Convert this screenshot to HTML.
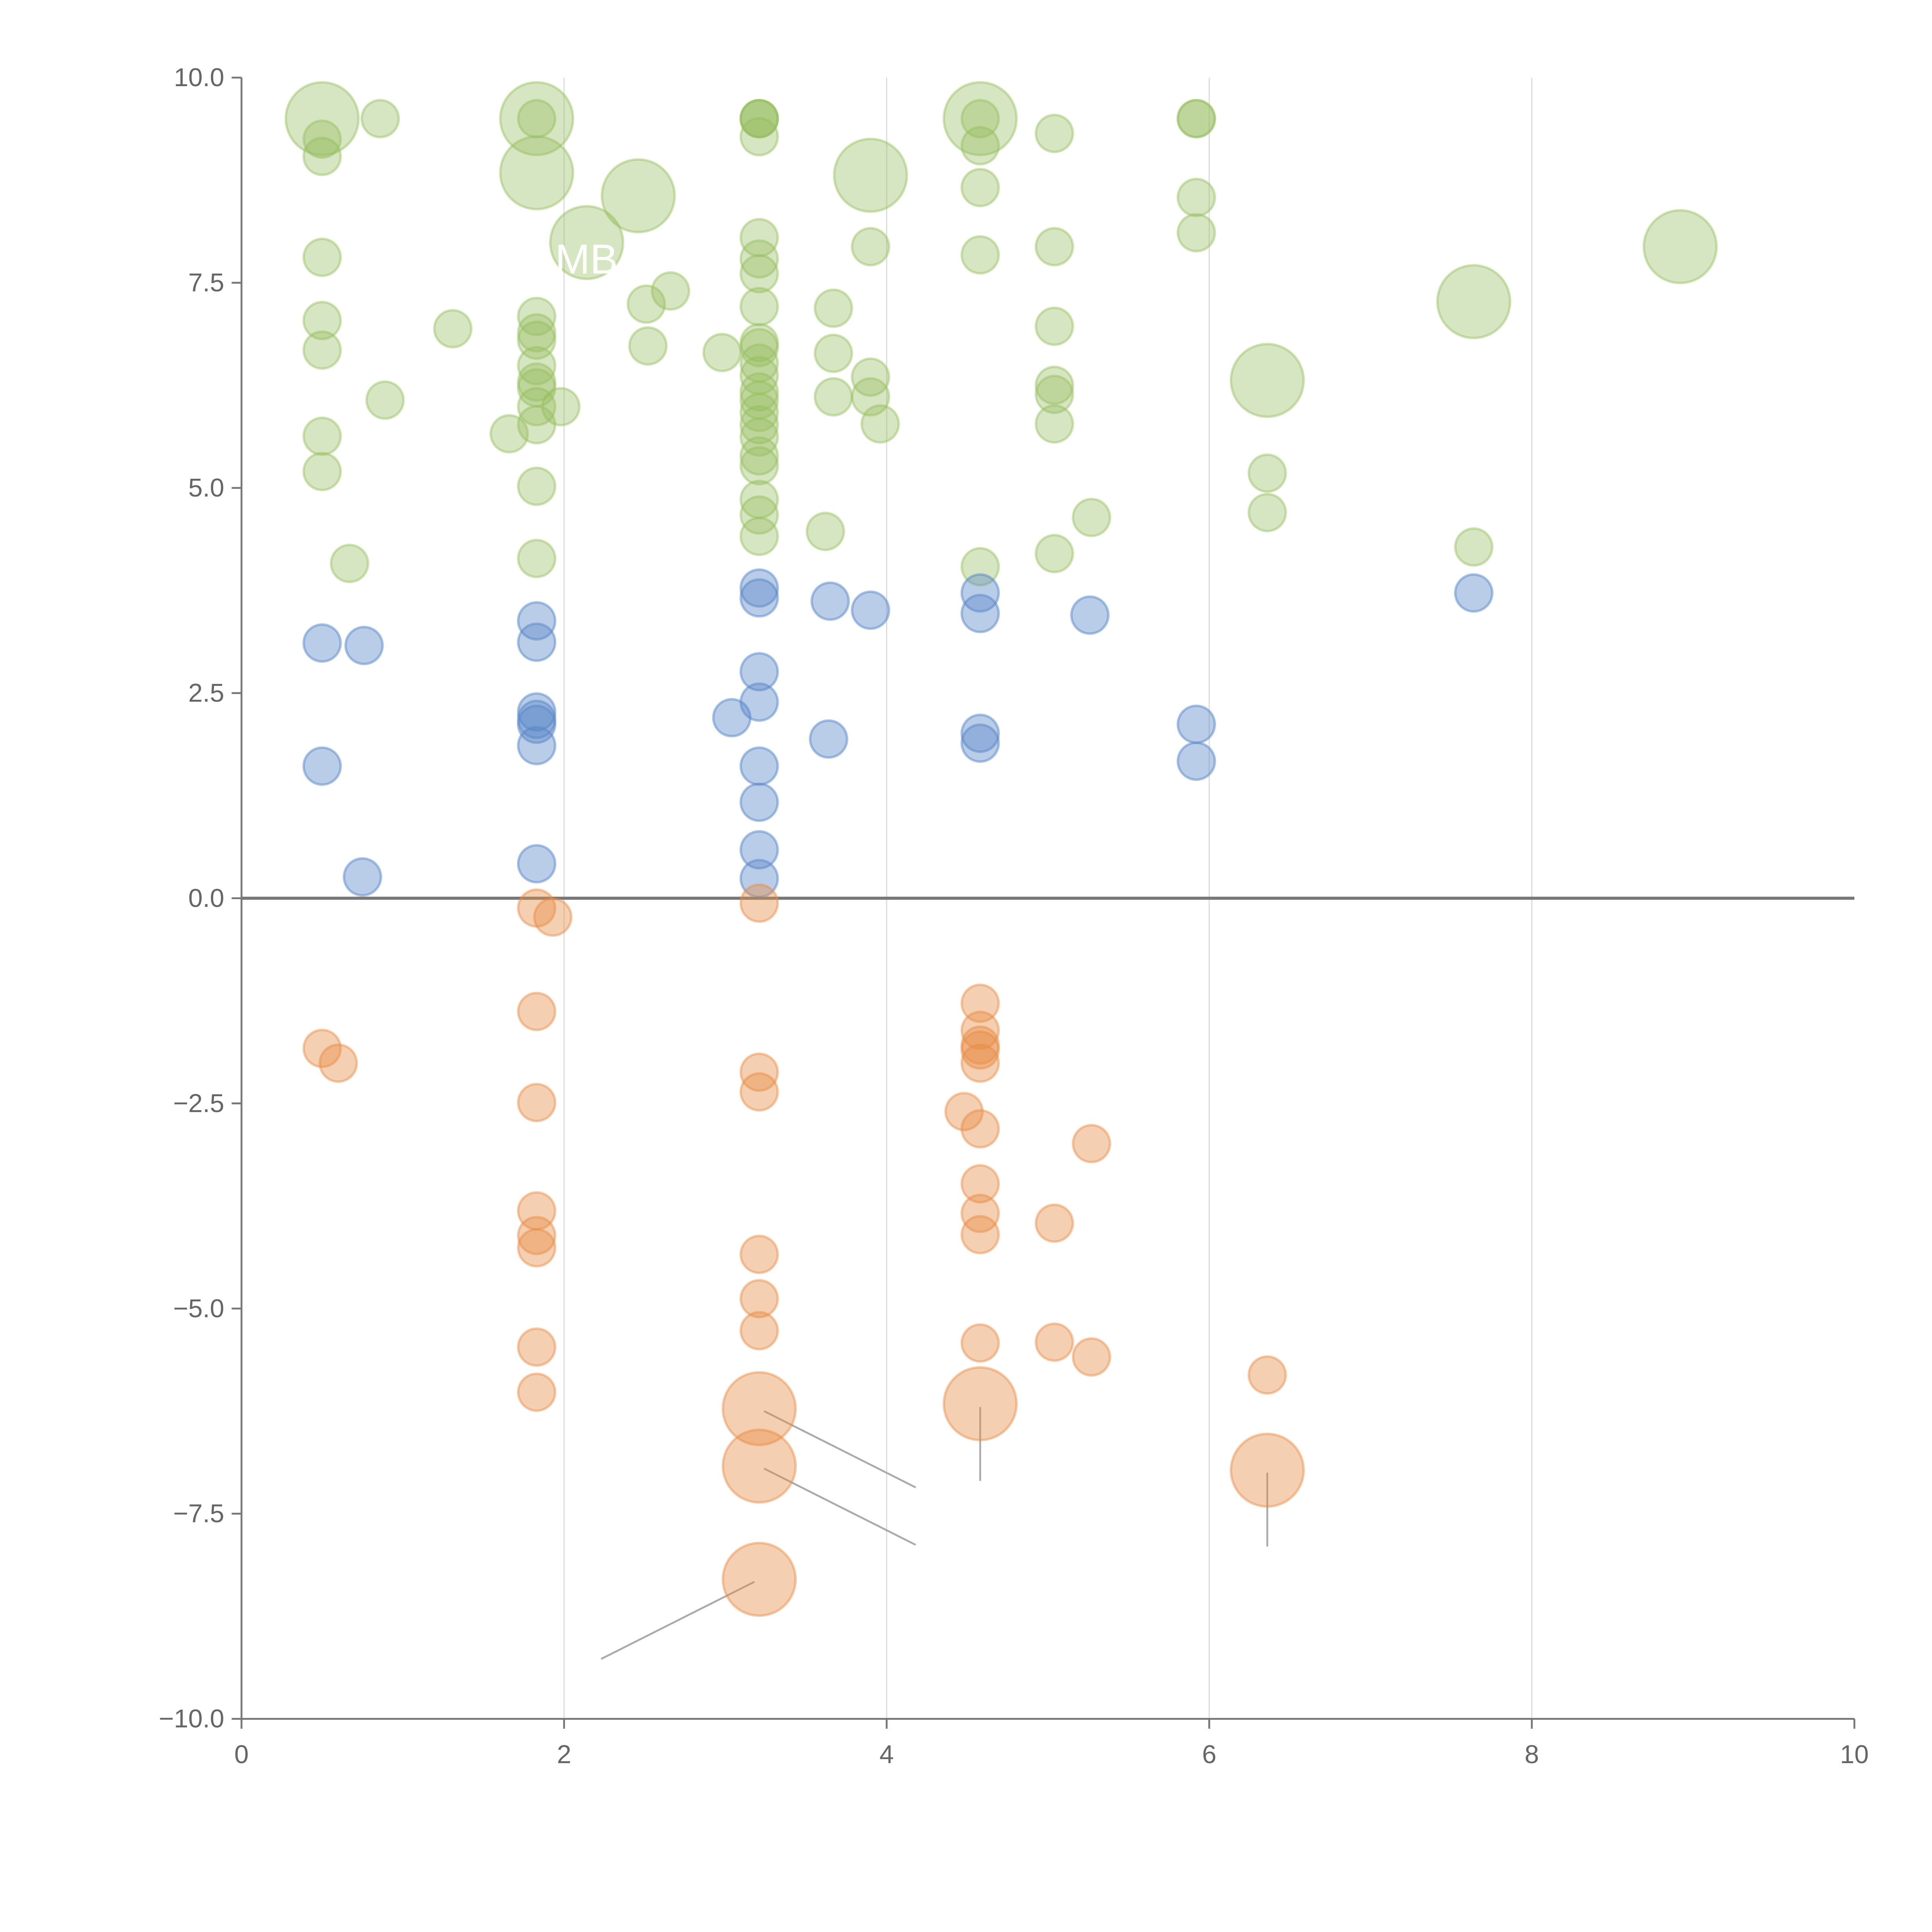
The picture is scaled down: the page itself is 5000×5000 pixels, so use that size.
<!DOCTYPE html>
<html><head><meta charset="utf-8"><style>
html,body{margin:0;padding:0;background:#fff;}
svg{display:block;}
text{font-family:"Liberation Sans",Arial,sans-serif;}
</style></head><body>
<svg id="chart" width="5000" height="5000" viewBox="0 0 1568 1568" xmlns="http://www.w3.org/2000/svg">
<g id="grid"></g>
<g id="axes"></g>
<g id="leaders"></g>
<g id="marks"></g>
<text x="476" y="222" font-size="34" fill="#fff" text-anchor="middle">MB</text>
</svg>
<script>
const greenX = [0.50,0.86,0.50,0.50,0.50,0.50,0.50,0.50,0.50,0.67,0.89,1.31,1.66,1.83,1.83,1.83,1.83,1.83,1.83,1.83,1.83,1.83,1.83,1.83,1.98,1.83,1.83,2.14,2.46,2.51,2.52,2.66,2.98,3.21,3.21,3.21,3.21,3.21,3.21,3.21,3.21,3.21,3.21,3.21,3.21,3.21,3.21,3.21,3.21,3.21,3.21,3.21,3.21,3.21,3.21,3.62,3.67,3.67,3.67,3.90,3.90,3.90,3.90,3.96,4.58,4.58,4.58,4.58,4.58,4.58,5.04,5.04,5.04,5.04,5.04,5.04,5.04,5.27,5.92,5.92,5.92,5.92,6.36,6.36,6.36,7.64,7.64,8.92];
const greenY = [9.50,9.50,9.25,9.04,7.81,7.04,6.68,5.63,5.20,4.08,6.07,6.94,5.66,9.50,9.50,8.84,7.09,6.89,6.80,6.49,6.29,6.22,5.99,5.77,5.99,5.02,4.14,7.99,8.56,7.24,6.73,7.40,6.65,9.50,9.50,9.28,8.05,7.79,7.61,7.21,6.77,6.71,6.52,6.37,6.17,6.07,5.92,5.77,5.62,5.39,5.27,4.86,4.67,4.41,9.50,4.47,7.19,6.64,6.11,8.81,7.94,6.35,6.11,5.78,9.50,9.50,9.17,8.66,7.84,4.04,9.32,7.94,6.97,6.25,6.14,5.78,4.20,4.64,9.50,9.50,8.54,8.11,6.31,5.18,4.70,7.27,4.28,7.94];
const greenS = [2,1,1,1,1,1,1,1,1,1,1,1,1,2,1,2,1,1,1,1,1,1,1,1,1,1,1,2,2,1,1,1,1,1,1,1,1,1,1,1,1,1,1,1,1,1,1,1,1,1,1,1,1,1,1,1,1,1,1,2,1,1,1,1,2,1,1,1,1,1,1,1,1,1,1,1,1,1,1,1,1,1,2,1,1,2,1,2];
const blueX = [0.50,0.76,0.50,0.75,1.83,1.83,1.83,1.83,1.83,1.83,1.83,3.04,3.21,3.21,3.21,3.21,3.21,3.21,3.21,3.21,3.65,3.90,3.64,4.58,4.58,4.58,4.58,5.26,5.92,5.92,7.64];
const blueY = [3.11,3.08,1.61,0.26,3.38,3.12,2.27,2.18,2.12,1.86,0.42,2.20,3.78,3.66,2.76,2.39,1.61,1.17,0.59,0.24,3.62,3.51,1.94,3.72,3.47,2.01,1.89,3.45,2.12,1.67,3.72];
const orangeX = [1.83,1.93,3.21,0.50,0.60,1.83,1.83,1.83,1.83,1.83,1.83,1.83,3.21,3.21,3.21,3.21,3.21,3.21,3.21,3.21,4.58,4.58,4.58,4.58,4.58,4.48,4.58,4.58,4.58,4.58,4.58,4.58,5.04,5.04,5.27,5.27,6.36,6.36];
const orangeY = [-0.12,-0.23,-0.06,-1.83,-2.01,-1.38,-2.49,-3.81,-4.11,-4.26,-5.47,-6.02,-2.12,-2.36,-4.34,-4.88,-5.27,-6.22,-6.92,-8.30,-1.28,-1.61,-1.79,-1.85,-2.01,-2.60,-2.81,-3.48,-3.84,-4.10,-5.42,-6.16,-3.96,-5.41,-5.59,-2.99,-5.81,-6.97];
const orangeS = [1,1,1,1,1,1,1,1,1,1,1,1,1,1,1,1,1,2,2,2,1,1,1,1,1,1,1,1,1,1,1,2,1,1,1,1,1,2];
const leaderX1 = [3.24,3.24,3.18,4.58,6.36];
const leaderY1 = [-6.25,-6.95,-8.33,-6.20,-7.00];
const leaderX2 = [4.18,4.18,2.23,4.58,6.36];
const leaderY2 = [-7.18,-7.88,-9.27,-7.10,-7.90];
const xTicks = [0,2,4,6,8,10];
const yTicks = [10,7.5,5,2.5,0,-2.5,-5,-7.5,-10];
const yTickLabels = ["10.0","7.5","5.0","2.5","0.0","\u22122.5","\u22125.0","\u22127.5","\u221210.0"];

const X0=196, XU=130.9, Y0=729, YU=66.6;
function sx(v){return X0+v*XU;}
function sy(v){return Y0-v*YU;}
function rad(s){return s===2?29.5:15;}
const NS="http://www.w3.org/2000/svg";
function mk(tag,attrs,parent){const e=document.createElementNS(NS,tag);for(const k in attrs)e.setAttribute(k,attrs[k]);parent.appendChild(e);return e;}

const grid=document.getElementById('grid'), axes=document.getElementById('axes');
xTicks.forEach(t=>{
  if(t>0&&t<10){const g=mk('line',{x1:sx(t),x2:sx(t),y1:sy(10),y2:sy(-10),stroke:'#ddd','stroke-width':1},grid);
  
  }
  const tk=mk('line',{x1:sx(t),x2:sx(t),y1:sy(-10),y2:sy(-10)+8,stroke:'#777','stroke-width':1.5},axes);
  
  
  const tl=mk('text',{x:sx(t),y:1431,'font-size':21,fill:'#666','text-anchor':'middle'},axes);
  tl.textContent=t;
  
  
});
yTicks.forEach((t,i)=>{
  const tk=mk('line',{x1:X0-8,x2:X0,y1:sy(t),y2:sy(t),stroke:'#777','stroke-width':1.5},axes);
  
  
  const tl=mk('text',{x:X0-14,y:sy(t)+7,'font-size':21,fill:'#666','text-anchor':'end'},axes);
  tl.textContent=yTickLabels[i];
  
  
});
const ya=mk('line',{x1:X0,x2:X0,y1:sy(10),y2:sy(-10),stroke:'#777','stroke-width':1.5},axes);


const xa=mk('line',{x1:X0,x2:sx(10),y1:sy(-10),y2:sy(-10),stroke:'#777','stroke-width':1.5},axes);


const zl=mk('line',{x1:X0,x2:sx(10),y1:sy(0),y2:sy(0),stroke:'#777','stroke-width':2.5},axes);



const leaders=document.getElementById('leaders');
leaderX1.forEach((v,i)=>{
  const l=mk('line',{x1:sx(v),y1:sy(leaderY1[i]),x2:sx(leaderX2[i]),y2:sy(leaderY2[i]),stroke:'#aaa','stroke-width':1.5},leaders);
  
  
});

const marks=document.getElementById('marks');
function series(xs,ys,ss,fill,stroke,name){
  xs.forEach((v,i)=>{
    const c=mk('circle',{cx:sx(v),cy:sy(ys[i]),r:rad(ss?ss[i]:1),fill:fill,stroke:stroke,'stroke-width':2},marks);
    
    
  });
}
series(greenX,greenY,greenS,'rgba(150,190,95,0.38)','rgba(150,190,95,0.45)','green-bubble');
series(blueX,blueY,null,'rgba(90,135,200,0.42)','rgba(90,135,200,0.5)','blue-bubble');
series(orangeX,orangeY,orangeS,'rgba(230,140,70,0.42)','rgba(230,140,70,0.45)','orange-bubble');
</script>
</body></html>
